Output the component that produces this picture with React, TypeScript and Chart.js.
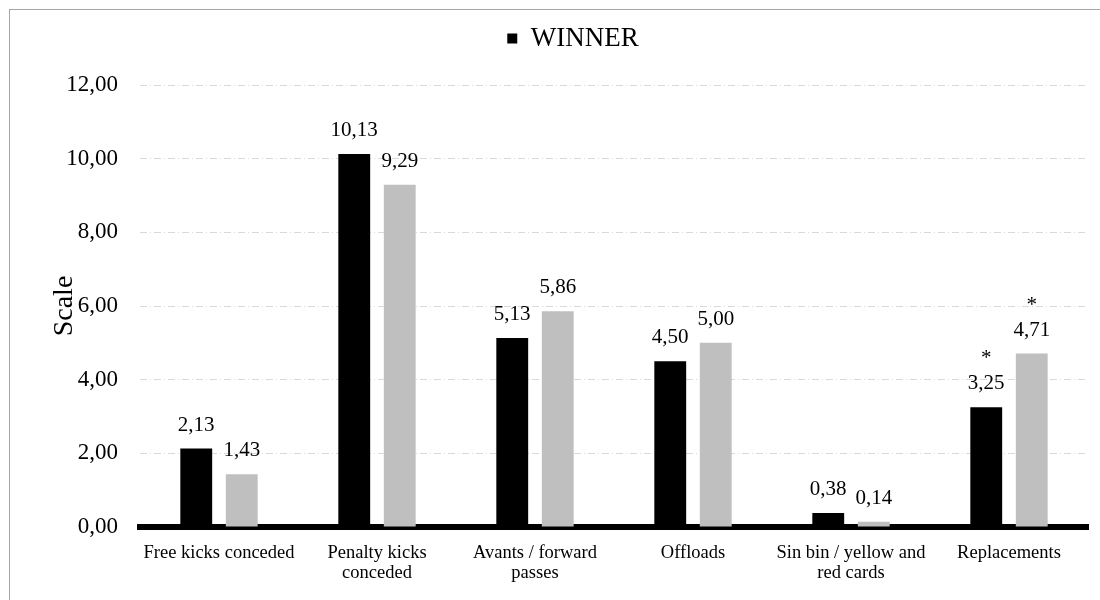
import React, { useEffect, useRef } from "react";
import { Chart, registerables } from "chart.js";

Chart.register(...registerables);

const FONT = "'Liberation Serif', 'Times New Roman', serif";

const categories: (string | string[])[] = [
  "Free kicks conceded",
  ["Penalty kicks", "conceded"],
  ["Avants / forward", "passes"],
  "Offloads",
  ["Sin bin / yellow and", "red cards"],
  "Replacements",
];

const winnerValues = [2.13, 10.13, 5.13, 4.5, 0.38, 3.25];
const loserValues = [1.43, 9.29, 5.86, 5.0, 0.14, 4.71];

const winnerMarks = [false, false, false, false, false, true];
const loserMarks = [false, false, false, false, false, true];

const yMin = 0;
const yMax = 12;
const yStep = 2;

const fmt = (v: number) => v.toFixed(2).replace(".", ",");

const valueLabels = {
  id: "valueLabels",
  afterDatasetsDraw(chart: any) {
    const ctx = chart.ctx;
    ctx.save();
    ctx.font = `21px ${FONT}`;
    ctx.fillStyle = "#000";
    ctx.textAlign = "center";
    ctx.textBaseline = "alphabetic";
    chart.data.datasets.forEach((ds: any, di: number) => {
      const meta = chart.getDatasetMeta(di);
      const marks = di === 0 ? winnerMarks : loserMarks;
      meta.data.forEach((bar: any, i: number) => {
        const v = ds.data[i] as number;
        const y = bar.y - 18;
        ctx.fillText(fmt(v), bar.x, y);
        if (marks[i]) ctx.fillText("*", bar.x, y - 25);
      });
    });
    ctx.restore();
  },
};

const legendTweak = {
  id: "legendTweak",
  beforeLayout(chart: any) {
    const l = chart.legend;
    if (l && !l._tweaked) {
      const orig = l.fit.bind(l);
      l.fit = () => {
        orig();
        l.height = 75;
      };
      l._tweaked = true;
    }
  },
  afterLayout(chart: any) {
    const l = chart.legend;
    if (l) {
      l.left += 24;
      l.right += 24;
    }
  },
};

export default function App() {
  const ref = useRef<HTMLCanvasElement | null>(null);

  useEffect(() => {
    if (!ref.current) return;
    const chart = new Chart(ref.current, {
      type: "bar",
      data: {
        labels: categories as any,
        datasets: [
          {
            label: "WINNER",
            data: winnerValues,
            backgroundColor: "#000000",
            borderWidth: 0,
            categoryPercentage: 0.576,
            barPercentage: 0.7,
          },
          {
            label: "LOSER",
            data: loserValues,
            backgroundColor: "#bfbfbf",
            borderWidth: 0,
            categoryPercentage: 0.576,
            barPercentage: 0.7,
          },
        ],
      },
      options: {
        responsive: false,
        animation: false,
        layout: { padding: { left: 0, right: 12, top: 0, bottom: 0 } },
        plugins: {
          tooltip: { enabled: false },
          legend: {
            display: true,
            position: "top",
            labels: {
              filter: (item: any) => item.datasetIndex === 0,
              color: "#000",
              font: { family: FONT, size: 27 },
              boxWidth: 10,
              boxHeight: 10,
              padding: 15,
            },
          },
        },
        scales: {
          x: {
            z: 1,
            grid: { display: false },
            border: { display: true, color: "#000", width: 6 },
            ticks: {
              color: "#000",
              font: { family: FONT, size: 18.5, lineHeight: 1.1 },
              padding: 8,
              maxRotation: 0,
              autoSkip: false,
            },
            afterFit: (scale: any) => {
              scale.height = 73;
            },
          },
          y: {
            min: yMin,
            max: yMax,
            grid: { color: "#d9d9d9", lineWidth: 1, drawTicks: false },
            border: { display: false, dash: [7, 3, 1, 3] },
            ticks: {
              stepSize: yStep,
              color: "#000",
              font: { family: FONT, size: 23 },
              padding: 22,
              callback: (v: any) => fmt(Number(v)),
            },
            title: {
              display: true,
              text: "Scale",
              color: "#000",
              font: { family: FONT, size: 28 },
              padding: { top: 38, bottom: 0 },
            },
            afterFit: (scale: any) => {
              scale.width = 130;
            },
          },
        },
      },
      plugins: [valueLabels, legendTweak],
    } as any);
    return () => chart.destroy();
  }, []);

  return (
    <div
      style={{
        position: "fixed",
        left: 9,
        top: 9,
        width: 1091,
        height: 591,
        boxSizing: "border-box",
        borderTop: "1px solid #a6a6a6",
        borderLeft: "1px solid #a6a6a6",
        background: "#fff",
      }}
    >
      <canvas ref={ref} width={1090} height={590} style={{ display: "block" }} />
    </div>
  );
}
